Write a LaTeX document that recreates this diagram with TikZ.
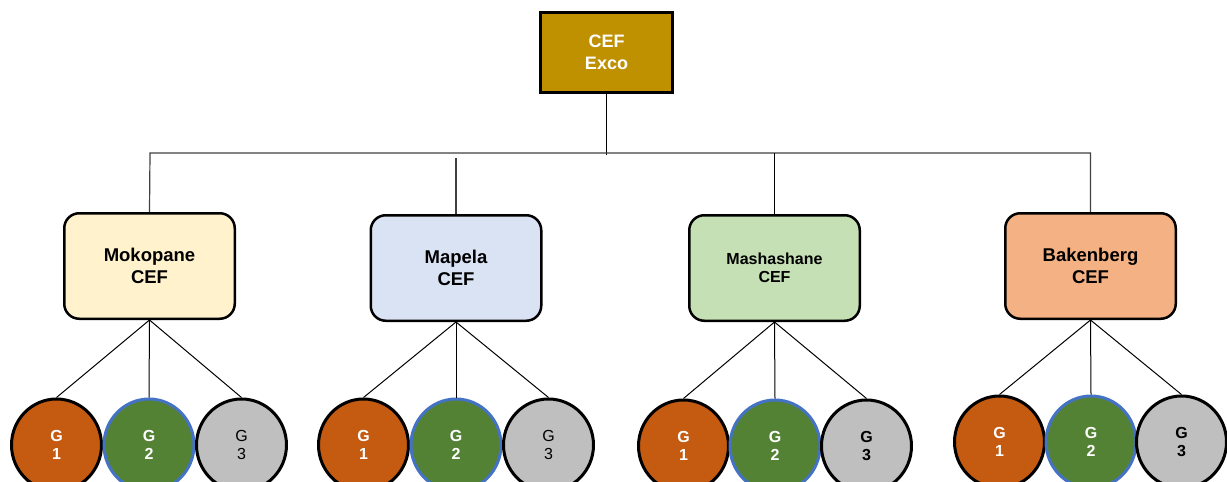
\documentclass[tikz,border=0pt]{standalone}
\usepackage{fontspec}
\setmainfont{Liberation Sans}
\usetikzlibrary{shapes.geometric}
\definecolor{excogold}{HTML}{BF9000}
\definecolor{mokfill}{HTML}{FFF2CC}
\definecolor{mapfill}{HTML}{DAE3F3}
\definecolor{mashfill}{HTML}{C5E0B4}
\definecolor{bakfill}{HTML}{F4B183}
\definecolor{gone}{HTML}{C55A11}
\definecolor{gtwo}{HTML}{548235}
\definecolor{gtwoline}{HTML}{4472C4}
\definecolor{gthree}{HTML}{BFBFBF}
\tikzset{
  excobox/.style={rectangle, draw=black, line width=3pt, fill=excogold, text=white,
    font=\bfseries\fontsize{18}{22}\selectfont, align=center,
    minimum width=132pt, minimum height=80pt, inner sep=0pt},
  cefbox/.style={rectangle, rounded corners=15pt, draw=black, line width=2.5pt,
    font=\bfseries\fontsize{18.5}{21.5}\selectfont, align=center,
    minimum width=170.5pt, minimum height=105.5pt, inner sep=0pt},
  gnode/.style={ellipse, draw=black, line width=3pt, inner sep=0pt,
    minimum width=90pt, minimum height=92pt, align=center,
    font=\bfseries\fontsize{16}{17.5}\selectfont},
  gonenode/.style={gnode, fill=gone, text=white},
  gtwonode/.style={gnode, fill=gtwo, draw=gtwoline, text=white},
  gthreenode/.style={gnode, fill=gthree, text=black},
  gthreelight/.style={gthreenode, font=\fontsize{16}{17.5}\selectfont},
  conn/.style={draw=black, line width=1pt},
  hconn/.style={draw=black!75, line width=1.2pt}
}
\begin{document}
\begin{tikzpicture}[x=1pt,y=-1pt]
\useasboundingbox (0,0) rectangle (1227,482);
% top box
\node[excobox] (exco) at (606.5,52.5) {CEF\\Exco};
% CEF boxes
\node[cefbox, fill=mokfill] (mok) at (149.5,266) {Mokopane\\CEF};
\node[cefbox, fill=mapfill] (map) at (456,268) {Mapela\\CEF};
\node[cefbox, fill=mashfill, font=\bfseries\fontsize{16}{18}\selectfont] (mash) at (774.5,268) {Mashashane\\CEF};
\node[cefbox, fill=bakfill] (bak) at (1090.5,266) {Bakenberg\\CEF};
% coordinates of the horizontal bus
\coordinate (exjoin) at (606.5,155);
\coordinate (hl) at (150,153);
\coordinate (hr) at (1090.5,153);
\coordinate (maptop) at (456,158);
\coordinate (mashtop) at (774.5,153);
% bus connectors
\draw[conn] (exco.south) -- (exjoin);
\draw[hconn] (mok.north) -- (hl) -- (hr) -- (bak.north);
\draw[hconn] (map.north) -- (maptop);
\draw[conn] (mash.north) -- (mashtop);
% G ellipses
\node[gonenode] (a1) at (56.5,445) {G\\1};
\node[gtwonode] (a2) at (149,445) {G\\2};
\node[gthreelight] (a3) at (241.5,445) {G\\3};
\node[gonenode] (b1) at (363.5,445) {G\\1};
\node[gtwonode] (b2) at (456,445) {G\\2};
\node[gthreelight] (b3) at (548.5,445) {G\\3};
\node[gonenode] (c1) at (683.5,446) {G\\1};
\node[gtwonode] (c2) at (775,446) {G\\2};
\node[gthreenode] (c3) at (866.5,446) {G\\3};
\node[gonenode] (d1) at (999.5,442) {G\\1};
\node[gtwonode] (d2) at (1091,442) {G\\2};
\node[gthreenode] (d3) at (1181.5,442) {G\\3};
% connectors from CEF boxes to G ellipses
\foreach \p/\q in {mok/a, map/b, mash/c, bak/d}{
  \draw[conn] (\p.south) -- (\q1.north);
  \draw[conn] (\p.south) -- (\q2.north);
  \draw[conn] (\p.south) -- (\q3.north);
}
\end{tikzpicture}
\end{document}
